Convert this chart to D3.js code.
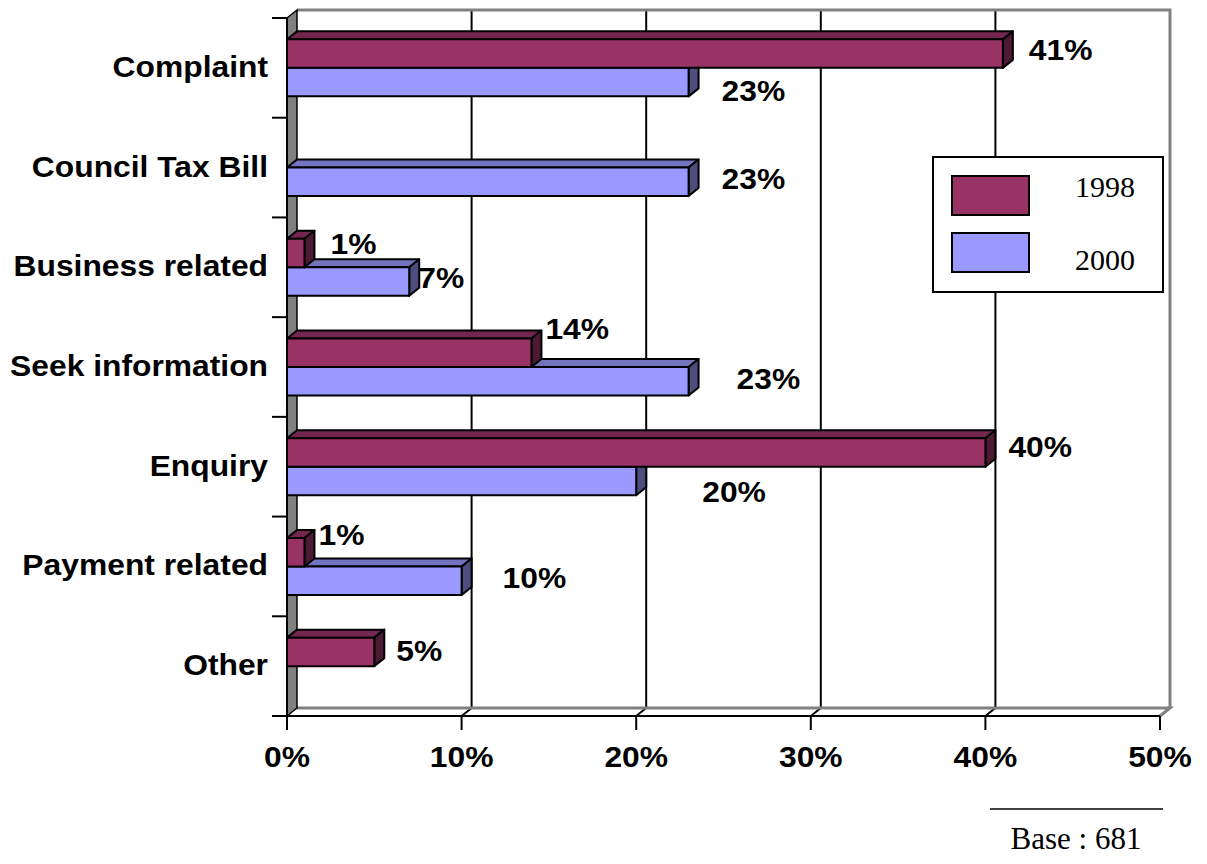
<!DOCTYPE html>
<html>
<head>
<meta charset="utf-8">
<script src="https://cdn.jsdelivr.net/npm/d3@7"></script>
<style>
  html, body { margin: 0; padding: 0; background: #fff; }
  svg { display: block; }
</style>
</head>
<body>
<svg id="chart" width="1207" height="864"></svg>
<script>
// Reasons for contact, share of respondents (%)
const categories = ["Complaint", "Council Tax Bill", "Business related", "Seek information", "Enquiry", "Payment related", "Other"];
const series = ["1998", "2000"];
const values1998 = [41, null, 1, 14, 40, 1, 5];
const values2000 = [23, 23, 7, 23, 20, 10, null];
const xTicks = [0, 10, 20, 30, 40, 50];
const baseNote = "Base : 681";

// Per-label nudges [dx, dy] in px, applied from the bar's outer end / centre
const labelNudge1998 = [[16, -4], [0, 0], [16, -10], [4, -25], [13, -6], [4, -18], [12, -2]];
const labelNudge2000 = [[23, 8], [23, -4], [-1, -4], [38, -3], [56, 10], [31, -3], [0, 0]];

const colors = {
  "1998": { front: "#993366", top: "#732650", side: "#4d1a33" },
  "2000": { front: "#9999ff", top: "#7373bf", side: "#4d4d80" }
};

const svg = d3.select("#chart");
const plotLeft = 287, plotRight = 1160, plotTop = 18, plotBottom = 716;
const DX = 10, DY = -8; // depth offset of the 3D box

const x = d3.scaleLinear().domain([0, 50]).range([plotLeft, plotRight]);
const y = d3.scaleBand().domain(categories).range([plotTop, plotBottom]);
const sub = d3.scaleBand().domain(series).range([-28.5, 28.5]);

const boldFont = "'Liberation Sans', Arial, sans-serif";
const serifFont = "'Liberation Serif', 'Times New Roman', serif";
const STRETCH = 1.06; // slightly wide bold sans lettering

// Bold sans text, widened horizontally around its anchor point
function boldText(parent, tx, ty, anchor, str) {
  return parent.append("text")
    .attr("transform", `translate(${tx},${ty}) scale(${STRETCH},1)`)
    .attr("text-anchor", anchor)
    .attr("font-family", boldFont).attr("font-weight", "bold").attr("font-size", 30)
    .text(str);
}

// Back wall
svg.append("rect")
  .attr("x", plotLeft + DX).attr("y", plotTop + DY)
  .attr("width", plotRight - plotLeft).attr("height", plotBottom - plotTop)
  .attr("fill", "#fff");

// Vertical gridlines on the back wall with their floor diagonals
const grid = svg.append("g");
xTicks.slice(1, -1).forEach(v => {
  grid.append("line")
    .attr("x1", x(v) + DX).attr("x2", x(v) + DX)
    .attr("y1", plotTop + DY).attr("y2", plotBottom + DY)
    .attr("stroke", "#000").attr("stroke-width", 2);
  grid.append("line")
    .attr("x1", x(v) + DX).attr("y1", plotBottom + DY)
    .attr("x2", x(v)).attr("y2", plotBottom)
    .attr("stroke", "#000").attr("stroke-width", 2);
});

// Back wall border (top and right edges)
svg.append("path")
  .attr("d", `M${plotLeft + DX},${plotTop + DY} H${plotRight + DX} V${plotBottom + DY}`)
  .attr("fill", "none").attr("stroke", "#808080").attr("stroke-width", 3);

// Floor
svg.append("path")
  .attr("d", `M${plotLeft + DX},${plotBottom + DY} H${plotRight + DX} L${plotRight},${plotBottom}`)
  .attr("fill", "none").attr("stroke", "#808080").attr("stroke-width", 3);

// Left side wall
svg.append("path")
  .attr("d", `M${plotLeft},${plotTop} L${plotLeft + DX},${plotTop + DY} V${plotBottom + DY} L${plotLeft},${plotBottom} Z`)
  .attr("fill", "#808080").attr("stroke", "#000").attr("stroke-width", 1.5);

// Front x axis line and ticks
svg.append("line")
  .attr("x1", plotLeft).attr("x2", plotRight).attr("y1", plotBottom).attr("y2", plotBottom)
  .attr("stroke", "#000").attr("stroke-width", 2);
const xAxis = svg.append("g");
xTicks.forEach(v => {
  xAxis.append("line")
    .attr("x1", x(v)).attr("x2", x(v)).attr("y1", plotBottom).attr("y2", plotBottom + 14)
    .attr("stroke", "#000").attr("stroke-width", 2);
  boldText(xAxis, x(v), 767, "middle", v + "%");
});

// Front y axis line and category ticks
svg.append("line")
  .attr("x1", plotLeft).attr("x2", plotLeft).attr("y1", plotTop).attr("y2", plotBottom)
  .attr("stroke", "#000").attr("stroke-width", 2);
const yAxis = svg.append("g");
const boundaries = categories.map(c => y(c)).concat([plotBottom]);
boundaries.forEach(b => {
  yAxis.append("line")
    .attr("x1", plotLeft - 15).attr("x2", plotLeft).attr("y1", b).attr("y2", b)
    .attr("stroke", "#000").attr("stroke-width", 2);
});
categories.forEach(c => {
  boldText(yAxis, 268, y(c) + y.bandwidth() / 2 + 9, "end", c);
});

// 3D bars: 2000 first so the 1998 boxes sit over their top faces
const bars = svg.append("g");
function drawBar(cat, key, value) {
  if (value == null) return;
  const c = colors[key];
  const cy = y(cat) + y.bandwidth() / 2;
  const y0 = cy + sub(key), y1 = y0 + sub.bandwidth();
  const x0 = x(0), x1 = x(value);
  const g = bars.append("g").attr("stroke", "#000").attr("stroke-width", 2).attr("stroke-linejoin", "round");
  g.append("path")
    .attr("d", `M${x0},${y0} L${x0 + DX},${y0 + DY} H${x1 + DX} L${x1},${y0} Z`)
    .attr("fill", c.top);
  g.append("path")
    .attr("d", `M${x1},${y0} L${x1 + DX},${y0 + DY} V${y1 + DY} L${x1},${y1} Z`)
    .attr("fill", c.side);
  g.append("rect")
    .attr("x", x0).attr("y", y0).attr("width", x1 - x0).attr("height", y1 - y0)
    .attr("fill", c.front);
}
categories.forEach((cat, i) => drawBar(cat, "2000", values2000[i]));
categories.forEach((cat, i) => drawBar(cat, "1998", values1998[i]));

// Value labels
const labels = svg.append("g");
function drawLabel(cat, key, value, nudge) {
  if (value == null) return;
  const cy = y(cat) + y.bandwidth() / 2 + sub(key) + sub.bandwidth() / 2;
  boldText(labels, x(value) + DX + nudge[0], cy + nudge[1] + 10.8, "start", value + "%");
}
categories.forEach((cat, i) => drawLabel(cat, "1998", values1998[i], labelNudge1998[i]));
categories.forEach((cat, i) => drawLabel(cat, "2000", values2000[i], labelNudge2000[i]));

// Legend
const legend = svg.append("g");
legend.append("rect")
  .attr("x", 933).attr("y", 157).attr("width", 230).attr("height", 135)
  .attr("fill", "#fff").attr("stroke", "#000").attr("stroke-width", 2);
series.forEach((s, i) => {
  legend.append("rect")
    .attr("x", 952).attr("y", 176 + i * 57).attr("width", 77).attr("height", 39)
    .attr("fill", colors[s].front).attr("stroke", "#000").attr("stroke-width", 2);
  legend.append("text")
    .attr("x", 1105).attr("y", 197 + i * 73)
    .attr("text-anchor", "middle")
    .attr("font-family", serifFont).attr("font-size", 30)
    .text(s);
});

// Base note
svg.append("line")
  .attr("x1", 990).attr("x2", 1163).attr("y1", 809).attr("y2", 809)
  .attr("stroke", "#000").attr("stroke-width", 1.5);
svg.append("text")
  .attr("x", 1076).attr("y", 849)
  .attr("text-anchor", "middle")
  .attr("font-family", serifFont).attr("font-size", 31)
  .text(baseNote);
</script>
</body>
</html>
